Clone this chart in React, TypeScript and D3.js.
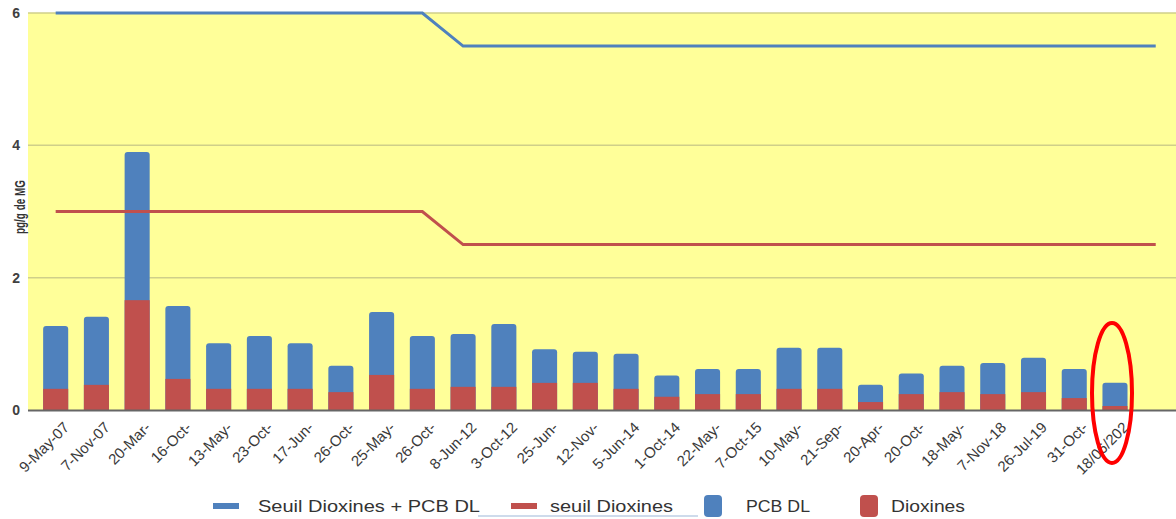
import { useEffect } from "react";
import * as d3 from "d3";

// dates of the samples (labels as printed, truncated in the source)
const labels: string[] = [
  "9-May-07", "7-Nov-07", "20-Mar-", "16-Oct-", "13-May-", "23-Oct-", "17-Jun-",
  "26-Oct-", "25-May-", "26-Oct-", "8-Jun-12", "3-Oct-12", "25-Jun-", "12-Nov-",
  "5-Jun-14", "1-Oct-14", "22-May-", "7-Oct-15", "10-May-", "21-Sep-", "20-Apr-",
  "20-Oct-", "18-May-", "7-Nov-18", "26-Jul-19", "31-Oct-", "18/06/202", "",
];

const dioxines: number[] = [
  0.32, 0.38, 1.66, 0.47, 0.32, 0.32, 0.32, 0.27, 0.53, 0.32, 0.35, 0.35, 0.41, 0.41,
  0.32, 0.2, 0.24, 0.24, 0.32, 0.32, 0.12, 0.24, 0.27, 0.24, 0.27, 0.18, 0.06,
];
const pcbDL: number[] = [
  0.95, 1.03, 2.24, 1.1, 0.69, 0.8, 0.69, 0.4, 0.95, 0.8, 0.8, 0.95, 0.51, 0.47,
  0.53, 0.32, 0.38, 0.38, 0.62, 0.62, 0.26, 0.31, 0.4, 0.47, 0.52, 0.44, 0.35,
];

const seuilTotal: number[] = [
  6, 6, 6, 6, 6, 6, 6, 6, 6, 6, 5.5, 5.5, 5.5, 5.5, 5.5, 5.5, 5.5, 5.5, 5.5, 5.5,
  5.5, 5.5, 5.5, 5.5, 5.5, 5.5, 5.5, 5.5,
];
const seuilDioxines: number[] = [
  3, 3, 3, 3, 3, 3, 3, 3, 3, 3, 2.5, 2.5, 2.5, 2.5, 2.5, 2.5, 2.5, 2.5, 2.5, 2.5,
  2.5, 2.5, 2.5, 2.5, 2.5, 2.5, 2.5, 2.5,
];

const yTicks: number[] = [0, 2, 4, 6];

const BLUE = "#4f81bd";
const RED = "#c0504d";
const FONT = "'Liberation Sans', Arial, sans-serif";

export default function App() {
  useEffect(() => {
    document.body.style.margin = "0";
  }, []);

  const width = 1176;
  const height = 519;
  const plotLeft = 28;

  const x = d3.scaleBand<number>()
    .domain(d3.range(labels.length))
    .range([35.4, 1176])
    .paddingInner(0.385)
    .paddingOuter(0.19);
  const y = d3.scaleLinear().domain([0, 6]).range([410, 13]);

  const bw = x.bandwidth();
  const cx = (i: number) => (x(i) as number) + bw / 2;

  const line = d3.line<number>()
    .x((_, i) => cx(i))
    .y((d) => y(d));

  const roundTop = (x0: number, y0: number, w: number, y1: number, r: number) => {
    const p = d3.path();
    p.moveTo(x0, y1);
    p.lineTo(x0, y0 + r);
    p.quadraticCurveTo(x0, y0, x0 + r, y0);
    p.lineTo(x0 + w - r, y0);
    p.quadraticCurveTo(x0 + w, y0, x0 + w, y0 + r);
    p.lineTo(x0 + w, y1);
    p.closePath();
    return p.toString();
  };

  return (
    <svg width={width} height={height} style={{ display: "block", fontFamily: FONT }}>
      <rect x={0} y={0} width={width} height={height} fill="#fff" />
      <rect x={plotLeft} y={y(6)} width={width - plotLeft} height={y(0) - y(6)} fill="#ffff99" />
      {yTicks.map((t) => (
        <g key={t}>
          {t > 0 && (
            <line x1={plotLeft} x2={width} y1={y(t)} y2={y(t)} stroke="#cfcf8a" strokeWidth={1.5} />
          )}
          <text x={20} y={y(t)} dy="0.35em" textAnchor="end" fontSize={14} fontWeight="bold" fill="#404040">
            {t}
          </text>
        </g>
      ))}
      <text
        transform={`translate(25,${207}) rotate(-90)`}
        textAnchor="middle"
        fontSize={15}
        fontWeight="bold"
        fill="#333"
        textLength={54}
        lengthAdjust="spacingAndGlyphs"
      >
        pg/g de MG
      </text>

      {pcbDL.map((v, i) => {
        const x0 = x(i) as number;
        const tot = v + dioxines[i];
        return (
          <g key={i}>
            <path d={roundTop(x0, y(tot), bw, y(0), 3)} fill={BLUE} />
            <rect x={x0} y={y(dioxines[i])} width={bw} height={y(0) - y(dioxines[i])} fill={RED} />
          </g>
        );
      })}

      <line x1={plotLeft} x2={width} y1={y(0) + 0.5} y2={y(0) + 0.5} stroke="#666" strokeWidth={2} />

      <path d={line(seuilTotal) as string} fill="none" stroke={BLUE} strokeWidth={3} />
      <path d={line(seuilDioxines) as string} fill="none" stroke={RED} strokeWidth={3} />

      {labels.map((l, i) => (
        <text
          key={i}
          transform={`translate(${cx(i) + 7},${421}) rotate(-45)`}
          textAnchor="end"
          dy="0.7em"
          fontSize={15}
          fill="#3a3a3a"
        >
          {l}
        </text>
      ))}

      <ellipse cx={1112} cy={393} rx={20} ry={70} fill="none" stroke="#ff0000" strokeWidth={4} />

      <g fontSize={17} fill="#333">
        <rect x={213} y={503} width={26} height={6} fill={BLUE} />
        <text x={258} y={506} dy="0.35em" textLength={222} lengthAdjust="spacingAndGlyphs">
          Seuil Dioxines + PCB DL
        </text>
        <rect x={511} y={503} width={26} height={6} fill={RED} />
        <text x={550} y={506} dy="0.35em" textLength={123} lengthAdjust="spacingAndGlyphs">
          seuil Dioxines
        </text>
        <line x1={478} x2={698} y1={516} y2={516} stroke="#9db7d8" strokeWidth={1} />
        <rect x={704} y={495} width={18} height={22} rx={4} fill={BLUE} />
        <text x={746} y={506} dy="0.35em" textLength={64} lengthAdjust="spacingAndGlyphs">
          PCB DL
        </text>
        <rect x={860} y={495} width={18} height={22} rx={4} fill={RED} />
        <text x={891} y={506} dy="0.35em" textLength={74} lengthAdjust="spacingAndGlyphs">
          Dioxines
        </text>
      </g>
    </svg>
  );
}
